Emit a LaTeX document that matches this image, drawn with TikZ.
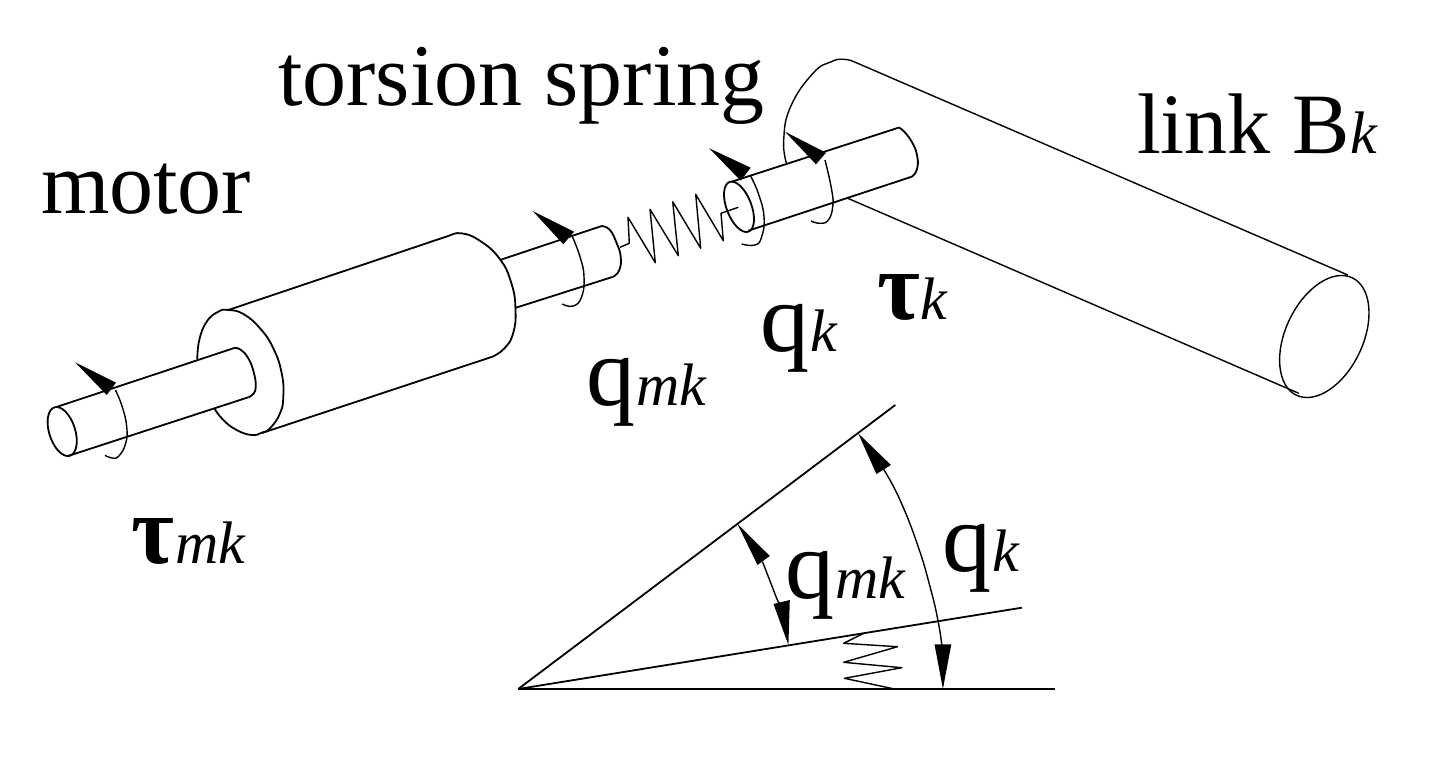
\documentclass[tikz,border=0pt]{standalone}
\usepackage{fontspec}
\setmainfont{Liberation Serif}
\newcommand{\subt}[1]{\kern1pt{\fontsize{60}{60}\selectfont\itshape #1}}
\newcommand{\boldtau}{\scalebox{.95}[1]{\bfseries τ}}
\tikzset{
  ln/.style={draw=black,line width=1.8pt,line join=round},
  thin line/.style={draw=black,line width=1.4pt,line join=round},
  head/.style={fill=black,draw=none},
  lab/.style={inner sep=0pt,outer sep=0pt,anchor=base west,text=black,font=\fontsize{98}{98}\selectfont},
  curve/.style={smooth,tension=.8},
}
\begin{document}
\begin{tikzpicture}[x=1pt,y=-1pt]
\useasboundingbox (0,0) rectangle (1436,777);
% left shaft
\draw[ln,shift={(62.2,431.5)},rotate=-72.2] (0,0) ellipse (25.4pt and 13pt);
\draw[ln] (68,456) -- (248.3,397.3);
\draw[ln] (56.5,407) -- (233.3,348.3);
\draw[ln] plot[curve] coordinates {(233.3,348.3) (240,349.3) (248.3,358.3) (254,373.3) (255.7,386.7) (253.3,394) (248.3,397.3)};
\draw[thin line] plot[curve] coordinates {(115.4,390) (122.2,406.7) (126.7,426.7) (125.7,443.3) (118.8,456) (111.9,458) (105,455.3)};
\fill[head] (75.1,362.3) -- (116,382.7) -- (106.8,395) -- cycle;
% motor body
\draw[ln] plot[curve] coordinates {(197.3,359.3) (199.3,340) (206.7,321.7) (218.3,311.7) (228.3,310) (243.3,314) (260,328.3) (273.3,348.3) (281.7,373.3) (283.3,396.7) (280,413.3) (270,428.3) (261.7,432.7) (251.7,435) (236.7,430) (223.3,420) (214.3,408.3)};
\draw[ln] (228.3,310) -- (451.1,235);
\draw[ln] (262,433) -- (492.4,356.7);
\draw[ln] plot[curve] coordinates {(451.1,235) (461.4,233.3) (478.7,240) (499.3,258.3) (511.4,283.3) (515.5,310) (513.1,333.3) (504.5,348.3) (492.4,356.7)};
% middle shaft
\draw[ln] (500,260) -- (601.7,226);
\draw[ln] (516,307.7) -- (613.3,276.7);
\draw[ln] plot[curve] coordinates {(601.7,226) (610,230) (616.7,243.3) (620.7,256.7) (619.3,270) (613.3,276.7)};
\draw[thin line] plot[curve] coordinates {(571.7,235) (580,256.7) (584,276.7) (581.7,296.7) (573.3,306) (562.3,304)};
\fill[head] (532.7,211) -- (574,231.7) -- (563.3,244.3) -- cycle;
% spring
\draw[thin line] (620,247.3) -- (629.3,243.3) -- (628,217.3) -- (655.3,262.7) -- (650,209.3) -- (678.3,255.7) -- (672.7,201.7) -- (700.7,248.3) -- (695.7,194.3) -- (723.3,240.7) -- (721,213.3) -- (738.3,207.3);
% right shaft
\draw[ln,shift={(739,206.8)},rotate=-69] (0,0) ellipse (26.6pt and 12.4pt);
\draw[ln] (731.7,181.7) -- (896.7,128.3);
\draw[ln] (748.3,230.7) -- (911.7,176.7);
\draw[ln] plot[curve] coordinates {(896.7,128.3) (901.7,129.3) (911.7,141.7) (917.3,156.7) (916.7,170) (911.7,176.7)};
\draw[thin line] plot[curve] coordinates {(750,175) (758.3,193.3) (764,216.7) (761.7,236.7) (755,245) (741.7,244)};
\fill[head] (709.3,148.3) -- (750.7,167.7) -- (740.7,180.7) -- cycle;
\draw[thin line] plot[curve] coordinates {(825,160) (831.7,190) (832.7,206.7) (828.3,220) (820,223.3) (811,221)};
\fill[head] (785,131.7) -- (826,152.7) -- (816,164.3) -- cycle;
% link
\draw[thin line] plot[curve] coordinates {(786.5,163.3) (783.7,140) (790.6,106.7) (813,73.3) (831.4,61.7) (843.7,59.3) (853.9,61.7)};
\draw[thin line] (853.9,61.7) -- (1347.8,275);
\draw[thin line] (847.8,198.3) -- (1298.8,393.3);
\draw[thin line,shift={(1324.3,336.5)},rotate=64.6] (0,0) ellipse (65pt and 38.7pt);
% angle diagram
\coordinate (O) at (518.2,689);
\coordinate (A) at (895.3,405);
\coordinate (B) at (1021.8,607.7);
\coordinate (C) at (1055.3,689);
\draw[ln] (O) -- (A);
\draw[ln] (O) -- (B);
\draw[ln] (O) -- (C);
\draw[thin line] plot[curve] coordinates {(883.6,469.3) (900,500) (918.2,546.7) (930.9,590) (938.2,621.7) (941.8,645)};
\fill[head] (858.2,433.3) -- (890.9,465) -- (876.4,474) -- cycle;
\fill[head] (942.9,689) -- (934.5,644.3) -- (951.3,644.3) -- cycle;
\draw[thin line] plot[curve] coordinates {(762.5,561.7) (770.9,583.3) (778.2,601.7) (781,604)};
\fill[head] (737.5,524) -- (769.8,556) -- (757.5,565) -- cycle;
\fill[head] (788.4,645) -- (773.5,604) -- (789.8,600) -- cycle;
\draw[thin line] (863.6,633.3) -- (843.6,643.3) -- (897.5,646.7) -- (843.6,662.3) -- (901.8,667.7) -- (844.4,678.3) -- (894.5,689);
% labels
\node[lab,font=\fontsize{88}{88}\selectfont] (torsion) at (278,105) {torsion spring};
\node[lab,font=\fontsize{88}{88}\selectfont] (motor) at (41,213) {motor};
\node[lab,font=\fontsize{86}{86}\selectfont] (link) at (1137,153) {link B\subt{k}};
\node[lab] (qk1) at (760.6,351.7) {q\subt{k}};
\node[lab] (tauk) at (877,319) {\boldtau\subt{k}};
\node[lab] (qmk1) at (586,405.7) {q\subt{mk}};
\node[lab] (taumk) at (131.5,563.5) {\boldtau\subt{mk}};
\node[lab] (qmk2) at (785.3,598) {q\subt{mk}};
\node[lab] (qk2) at (942,571.7) {q\subt{k}};
\end{tikzpicture}
\end{document}
